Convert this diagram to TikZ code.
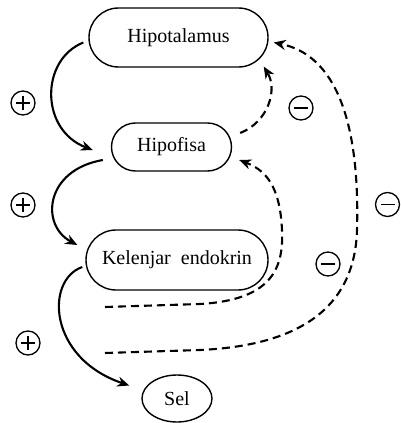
\documentclass[tikz,border=0pt]{standalone}
\usepackage{fontspec}
\setmainfont{Liberation Serif}
\usetikzlibrary{arrows.meta,shapes.geometric}
\begin{document}
\begin{tikzpicture}[x=1pt,y=-1pt,
  organ/.style={draw,line width=1.4pt,font=\fontsize{20}{22}\selectfont,inner sep=0pt},
  posarrow/.style={line width=2.1pt,-{Stealth[length=12pt,width=10pt]}},
  negarrow/.style={line width=2.1pt,dash pattern=on 8pt off 5pt,-{Stealth[length=12pt,width=10pt]}},
  sign/.style={circle,draw,line width=1.3pt,minimum size=24pt,inner sep=0pt},
  plussign/.style={sign,path picture={
     \draw[line width=1.3pt] ([xshift=-7pt]path picture bounding box.center) -- ([xshift=7pt]path picture bounding box.center);
     \draw[line width=1.3pt] ([yshift=-7pt]path picture bounding box.center) -- ([yshift=7pt]path picture bounding box.center);}},
  minussign/.style={sign,path picture={
     \draw[line width=1.3pt] ([xshift=-7pt]path picture bounding box.center) -- ([xshift=7pt]path picture bounding box.center);}}
]
\useasboundingbox (0,0) rectangle (401,423);

\node[organ,rounded corners=29.5pt,minimum width=179pt,minimum height=59pt] (hipot) at (178.5,37.5) {Hipotalamus};
\node[organ,rounded corners=24pt,minimum width=120pt,minimum height=48pt] (hipof) at (171.5,147) {Hipofisa};
\node[organ,rounded corners=30pt,minimum width=182pt,minimum height=60pt] (kel) at (177,260) {Kelenjar\ \ endokrin};
\node[organ,ellipse,minimum width=70pt,minimum height=47pt] (sel) at (177,398.5) {Sel};

\node[plussign] (p1) at (23,103) {};
\node[plussign] (p2) at (23,205) {};
\node[plussign] (p3) at (28,343) {};
\node[minussign] (m1) at (301,108) {};
\node[minussign] (m2) at (387.5,204.5) {};
\node[minussign] (m3) at (328,264) {};

% positive (stimulating) arrows
\draw[posarrow] ([shift={(-5,5)}]hipot.west) .. controls (40,60) and (40,130) .. ([shift={(-18,3)}]hipof.west);
\draw[posarrow] ([shift={(-8,13)}]hipof.west) .. controls (45,170) and (40,225) .. ([shift={(-8,-15)}]kel.west);
\draw[posarrow] ([shift={(-3,7)}]kel.west) .. controls (45,280) and (48,358) .. ([shift={(-12,-13)}]sel.west);

% negative feedback
\draw[negarrow] ([shift={(8,-14)}]hipof.east) .. controls (268,122) and (278,90) .. ([shift={(-5,29)}]hipot.east);

\coordinate (f1) at (105,307);
\coordinate (f2) at (105,353);
\draw[negarrow] (f1) -- (200,304) .. controls (270,300) and (284,270) .. (282,230)
   .. controls (280,185) and (265,170) .. ([shift={(7,13)}]hipof.east);
\draw[negarrow] (f2) -- (200,350) .. controls (310,345) and (355,300) .. (357,230)
   .. controls (360,120) and (335,55) .. ([shift={(5,5)}]hipot.east);
\end{tikzpicture}
\end{document}
